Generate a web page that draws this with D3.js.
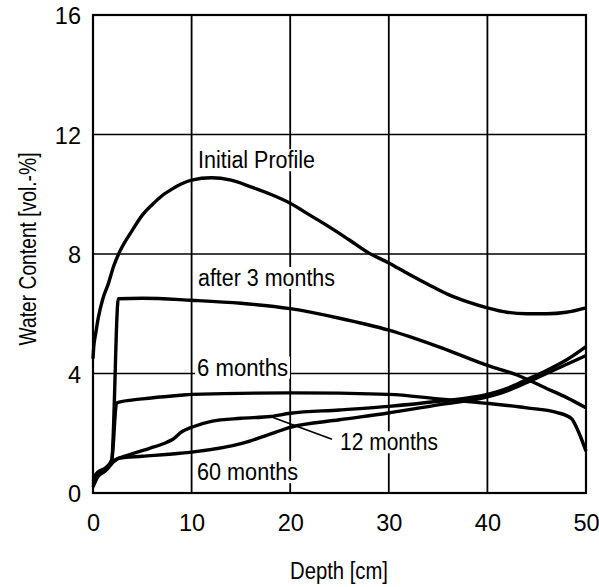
<html>
<head>
<script src="https://d3js.org/d3.v7.min.js"></script>
<style>
  body { margin: 0; background: #fff; }
  text { font-family: "Liberation Sans", Arial, Helvetica, sans-serif; fill: #000; }
</style>
</head>

<body>
  <script>
    // data: [depth cm, water content vol.-%]
    const initialProfile = [[0,4.5],[0.07,4.87],[0.27,5.33],[0.54,5.87],[1,6.5],[1.55,7.0],[2.1,7.6],[2.74,8.1],[4,8.8],[5,9.3],[6,9.65],[7,9.95],[8,10.17],[9,10.35],[10,10.47],[12,10.55],[14,10.47],[16,10.25],[18,10.0],[20,9.7],[22,9.3],[24,8.9],[26,8.47],[28,8.03],[30,7.7],[32,7.33],[34,6.98],[36,6.65],[38,6.4],[40,6.2],[42,6.05],[44,6.0],[46,6.0],[48,6.05],[50,6.2]];
    const after3Months = [[0,0.5],[0.5,0.7],[1.3,0.85],[1.9,1.1],[2.57,6.5],[5,6.52],[10,6.45],[15,6.35],[20,6.17],[25,5.85],[30,5.45],[35,4.9],[40,4.27],[43,3.95],[46,3.5],[48,3.2],[50,2.85]];
    const after6Months = [[0,0.4],[0.5,0.65],[1.3,0.82],[1.9,1.1],[2.4,3.02],[5,3.15],[8.8,3.27],[10,3.3],[20,3.35],[30,3.3],[35,3.15],[40,3.0],[44,2.85],[47,2.7],[48.5,2.5],[49.3,2.0],[50,1.4]];
    const after12Months = [[0,0.3],[0.5,0.6],[1.3,0.8],[2.1,1.08],[3.4,1.25],[5.8,1.5],[7.5,1.7],[8.1,1.8],[9,2.05],[10,2.2],[12,2.4],[15,2.5],[18,2.56],[20,2.67],[25,2.78],[30,2.9],[35,3.07],[40,3.3],[42,3.5],[44,3.8],[46,4.1],[48,4.45],[50,4.9]];
    const after60Months = [[0,0.2],[0.5,0.55],[1.3,0.75],[2.1,1.05],[2.7,1.17],[5,1.23],[8.8,1.33],[10,1.37],[15.2,1.67],[17.6,1.93],[20,2.2],[25,2.45],[29.8,2.67],[35,2.95],[40,3.22],[42,3.42],[44,3.7],[46,4.0],[48,4.3],[50,4.6]];

    const xTicks = [0, 10, 20, 30, 40, 50];
    const yTicks = [0, 4, 8, 12, 16];

    const seriesList = [initialProfile, after3Months, after6Months, after12Months, after60Months];
    const labelNames = ["Initial Profile", "after 3 months", "6 months", "12 months", "60 months"];

    const width = 599;
    const height = 587;

    const svg = d3.select("body")
              .append("svg")
              .attr("width", width)
              .attr("height", height);

    const x = d3.scaleLinear().domain([0, 50]).range([93, 586]);
    const y = d3.scaleLinear().domain([0, 16]).range([493, 15]);

    // grid lines
    svg.append("g").selectAll("line")
      .data(xTicks.slice(1, -1))
      .join("line")
        .attr("x1", d => x(d)).attr("x2", d => x(d))
        .attr("y1", y(16)).attr("y2", y(0))
        .attr("stroke", "#000").attr("stroke-width", 1.8);

    svg.append("g").selectAll("line")
      .data(yTicks.slice(1, -1))
      .join("line")
        .attr("x1", x(0)).attr("x2", x(50))
        .attr("y1", d => y(d)).attr("y2", d => y(d))
        .attr("stroke", "#000").attr("stroke-width", 1.3);

    // axes (labels only)
    const xAxis = svg.append("g")
      .attr("transform", "translate(0," + y(0) + ")")
      .call(d3.axisBottom(x).tickValues(xTicks).tickSize(0).tickPadding(22));
    const yAxis = svg.append("g")
      .attr("transform", "translate(" + x(0) + ",0)")
      .call(d3.axisLeft(y).tickValues(yTicks).tickSize(0).tickPadding(12));
    [xAxis, yAxis].forEach(a => {
      a.select(".domain").remove();
      a.selectAll("text")
        .attr("font-family", "Liberation Sans, Arial, sans-serif")
        .attr("font-size", 23.5)
        .attr("fill", "#000");
    });
    xAxis.selectAll("text").attr("dy", "0.68em");
    yAxis.selectAll("text").attr("dy", "0.38em");

    // curve labels, placed in data coordinates, with white boxes behind
    const labelSpots = [[10.65, 10.87, 117], [10.65, 6.93, 137], [10.55, 3.93, 91], [25.05, 1.43, 98], [10.55, 0.43, 101]];
    const labels = svg.append("g");
    labelNames.forEach((name, i) => {
      const g = labels.append("g");
      const t = g.append("text")
        .attr("x", x(labelSpots[i][0]))
        .attr("y", y(labelSpots[i][1]))
        .attr("font-size", 23.5)
        .attr("textLength", labelSpots[i][2])
        .attr("lengthAdjust", "spacingAndGlyphs")
        .text(name);
      const b = t.node().getBBox();
      g.insert("rect", "text")
        .attr("x", b.x - 2).attr("y", b.y + 2)
        .attr("width", b.width + 4).attr("height", b.height - 4)
        .attr("fill", "#fff");
    });

    // pointer line for the 12 months label
    svg.append("line")
      .attr("x1", x(18.26)).attr("y1", y(2.53))
      .attr("x2", x(24.24)).attr("y2", y(1.8))
      .attr("stroke", "#000").attr("stroke-width", 1.6);

    // curves
    const line = d3.line()
      .x(d => x(d[0]))
      .y(d => y(d[1]))
      .curve(d3.curveMonotoneX);

    svg.append("g").selectAll("path")
      .data(seriesList)
      .join("path")
        .attr("d", line)
        .attr("fill", "none")
        .attr("stroke", "#000")
        .attr("stroke-width", 3.4)
        .attr("stroke-linejoin", "round");

    // frame
    svg.append("rect")
      .attr("x", x(0)).attr("y", y(16))
      .attr("width", x(50) - x(0)).attr("height", y(0) - y(16))
      .attr("fill", "none")
      .attr("stroke", "#000")
      .attr("stroke-width", 2.2);

    // axis titles
    svg.append("text")
      .attr("x", 339).attr("y", 579)
      .attr("text-anchor", "middle")
      .attr("font-size", 23.5)
      .attr("textLength", 98)
      .attr("lengthAdjust", "spacingAndGlyphs")
      .text("Depth [cm]");

    svg.append("text")
      .attr("transform", "translate(36,249) rotate(-90)")
      .attr("text-anchor", "middle")
      .attr("font-size", 23.5)
      .attr("textLength", 193)
      .attr("lengthAdjust", "spacingAndGlyphs")
      .text("Water Content [vol.-%]");
  </script>
</body>
</html>
